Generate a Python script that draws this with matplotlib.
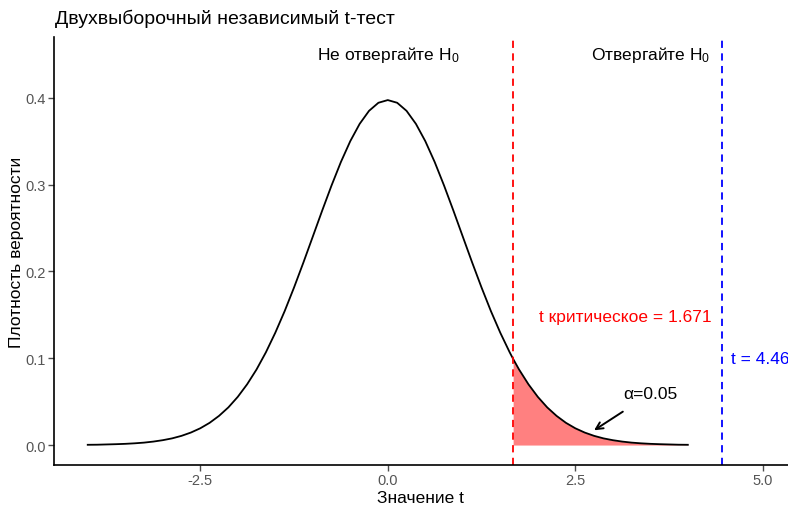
import matplotlib
matplotlib.use('Agg')
import matplotlib.pyplot as plt
import numpy as np

plt.rcParams['font.family'] = ['Liberation Sans', 'DejaVu Sans']
plt.rcParams['mathtext.fontset'] = 'custom'
plt.rcParams['mathtext.rm'] = 'Liberation Sans'
plt.rcParams['mathtext.default'] = 'regular'

# density curve values
t_vals = [-4.0, -3.875, -3.75, -3.625, -3.5, -3.375, -3.25, -3.125, -3.0, -2.875,
          -2.75, -2.625, -2.5, -2.375, -2.25, -2.125, -2.0, -1.875, -1.75, -1.625,
          -1.5, -1.375, -1.25, -1.125, -1.0, -0.875, -0.75, -0.625, -0.5, -0.375,
          -0.25, -0.125, 0.0, 0.125, 0.25, 0.375, 0.5, 0.625, 0.75, 0.875, 1.0,
          1.125, 1.25, 1.375, 1.5, 1.625, 1.671, 1.75, 1.875, 2.0, 2.125, 2.25,
          2.375, 2.5, 2.625, 2.75, 2.875, 3.0, 3.125, 3.25, 3.375, 3.5, 3.625,
          3.75, 3.875, 4.0]
dens = [0.0003, 0.0004, 0.0007, 0.0010, 0.0014, 0.0020, 0.0028, 0.0040, 0.0056,
        0.0077, 0.0106, 0.0144, 0.0193, 0.0256, 0.0336, 0.0434, 0.0555, 0.0700,
        0.0870, 0.1068, 0.1293, 0.1542, 0.1814, 0.2102, 0.2400, 0.2699, 0.2989,
        0.3260, 0.3500, 0.3699, 0.3849, 0.3942, 0.3973, 0.3942, 0.3849, 0.3699,
        0.3500, 0.3260, 0.2989, 0.2699, 0.2400, 0.2102, 0.1814, 0.1542, 0.1293,
        0.1068, 0.0992, 0.0870, 0.0700, 0.0555, 0.0434, 0.0336, 0.0256, 0.0193,
        0.0144, 0.0106, 0.0077, 0.0056, 0.0040, 0.0028, 0.0020, 0.0014, 0.0010,
        0.0007, 0.0004, 0.0003]
t_crit = 1.671
t_stat = 4.46
alpha = 0.05

x_ticks = [-2.5, 0.0, 2.5, 5.0]
y_ticks = [0.0, 0.1, 0.2, 0.3, 0.4]

t_arr = np.array(t_vals)
d_arr = np.array(dens)

fig = plt.figure(figsize=(7.88, 5.06), dpi=100)
ax = fig.add_axes([0.0685, 0.079, 0.931, 0.846])

mask = t_arr >= t_crit
ax.fill_between(t_arr[mask], d_arr[mask], 0, color='#FF8080', lw=0)
ax.plot(t_arr, d_arr, color='black', lw=1.3)

ax.axvline(t_crit, color='red', ls=(0, (4, 3)), lw=1.3)
ax.axvline(t_stat, color='blue', ls=(0, (4, 3)), lw=1.3)

ax.text(0, 0.45, 'Не отвергайте H$_0$', ha='center', va='center', fontsize=12.5)
ax.text(3.5, 0.45, 'Отвергайте H$_0$', ha='center', va='center', fontsize=12.5)
ax.text((t_crit + t_stat) / 2 + 0.1, 0.148, f't критическое = {t_crit}',
        ha='center', va='center', fontsize=12.5, color='red')
ax.text(t_stat + 0.5, 0.1, f't = {t_stat}', ha='center', va='center',
        fontsize=12.5, color='blue')
ax.annotate(f'α={alpha}', xy=(2.75, 0.017), xytext=(3.5, 0.059),
            ha='center', va='center', fontsize=12.5,
            arrowprops=dict(arrowstyle='->', color='black', lw=1.4,
                            shrinkA=10, shrinkB=0))

ax.set_xlim(-4.45, 5.33)
ax.set_ylim(-0.023, 0.47)
ax.set_xticks(x_ticks)
ax.set_xticklabels([f'{v:.1f}' for v in x_ticks])
ax.set_yticks(y_ticks)
ax.set_yticklabels([f'{v:.1f}' for v in y_ticks])
ax.tick_params(colors='#4D4D4D', labelsize=10.5, length=4, width=1, pad=2)
ax.tick_params(axis='both', labelcolor='#555555')
for s in ['top', 'right']:
    ax.spines[s].set_visible(False)
for s in ['left', 'bottom']:
    ax.spines[s].set_linewidth(1.2)

ax.set_xlabel('Значение t', fontsize=12.5, labelpad=2)
ax.set_ylabel('Плотность вероятности', fontsize=12.5, labelpad=1)
fig.text(0.07, 0.962, 'Двухвыборочный независимый t-тест', fontsize=14,
         ha='left', va='center')

plt.savefig('out.png', dpi=100)
plt.close()
